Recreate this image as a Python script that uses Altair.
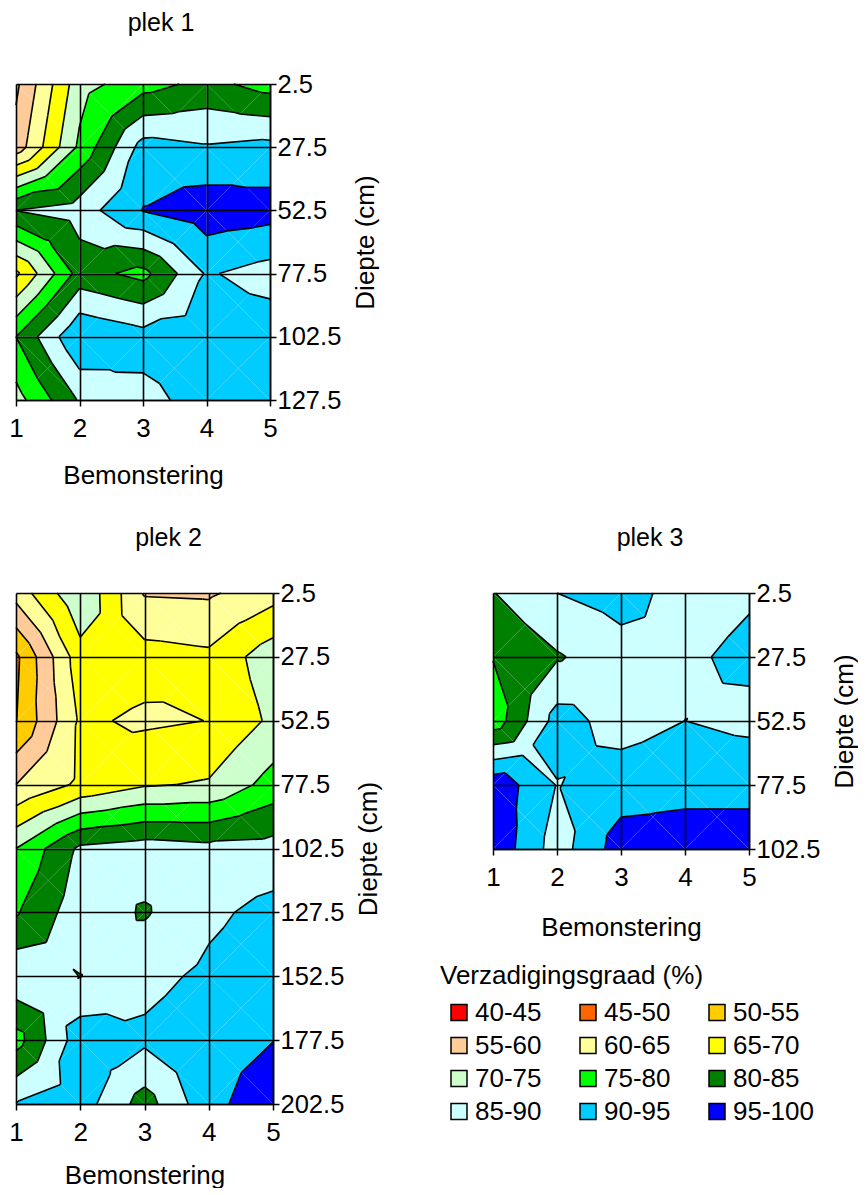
import altair as alt
import pandas as pd

# ---------------- data ----------------
samples = [1, 2, 3, 4, 5]

depth_plek1 = [2.5, 27.5, 52.5, 77.5, 102.5, 127.5]
plek1_grid = [
    [54.0, 73.0, 78.0, 81.5, 78.0],
    [57.0, 76.0, 92.0, 90.5, 91.5],
    [85.05, 87.5, 95.2, 98.0, 97.0],
    [64.0, 82.0, 78.5, 90.5, 88.0],
    [80.0, 94.8, 92.0, 93.0, 93.0],
    [73.0, 85.5, 88.5, 92.0, 93.0],
]

depth_plek2 = [2.5, 27.5, 52.5, 77.5, 102.5, 127.5, 152.5, 177.5, 202.5]
plek2_grid = [
    [62.0, 74.5, 59.6, 59.3, 63.0],
    [49.0, 68.0, 67.0, 66.0, 73.0],
    [49.8, 65.8, 64.2, 65.07, 71.0],
    [60.0, 66.0, 69.5, 70.5, 77.0],
    [75.0, 86.0, 87.5, 86.5, 87.0],
    [79.5, 88.0, 84.5, 89.0, 91.5],
    [89.0, 84.9, 88.5, 91.0, 93.0],
    [78.0, 93.0, 91.0, 93.0, 94.9],
    [90.2, 92.5, 82.8, 93.4, 98.5],
]

depth_plek3 = [2.5, 27.5, 52.5, 77.5, 102.5]
plek3_grid = [
    [84.8, 90.0, 92.0, 88.0, 89.5],
    [80.2, 84.5, 88.0, 89.3, 91.0],
    [77.0, 92.0, 88.0, 90.02, 88.8],
    [98.5, 89.8, 92.5, 93.5, 93.5],
    [98.9, 87.6, 97.5, 97.5, 97.5],
]

band_labels = ["40-45", "45-50", "50-55", "55-60", "60-65", "65-70",
               "70-75", "75-80", "80-85", "85-90", "90-95", "95-100"]
band_colors = ["#FF0000", "#FF6600", "#FFCC00", "#FFCC99", "#FFFF99", "#FFFF00",
               "#CCFFCC", "#00FF00", "#008000", "#CCFFFF", "#00CCFF", "#0000FF"]
band_edges = [40, 45, 50, 55, 60, 65, 70, 75, 80, 85, 90, 95, 100]

FONT = "Liberation Sans"


# ---------------- contour geometry (triangulated cells) ----------------
def clip(poly, level, keep_above):
    out = []
    n = len(poly)
    for i in range(n):
        p = poly[i]
        q = poly[(i + 1) % n]
        pin = p[2] >= level if keep_above else p[2] <= level
        qin = q[2] >= level if keep_above else q[2] <= level
        if pin:
            out.append(p)
        if pin != qin:
            t = (level - p[2]) / (q[2] - p[2])
            out.append((p[0] + t * (q[0] - p[0]), p[1] + t * (q[1] - p[1]), level))
    return out


def area(poly):
    s = 0.0
    n = len(poly)
    for i in range(n):
        x1, y1 = poly[i][0], poly[i][1] / 25.0
        x2, y2 = poly[(i + 1) % n][0], poly[(i + 1) % n][1] / 25.0
        s += x1 * y2 - x2 * y1
    return abs(s) / 2


def build(grid, depths):
    prow, lrow = [], []
    pid = 0
    sid = 0
    for r in range(len(depths) - 1):
        for c in range(len(samples) - 1):
            x0, x1 = samples[c], samples[c + 1]
            y0, y1 = depths[r], depths[r + 1]
            a = (x0, y0, grid[r][c])
            b = (x1, y0, grid[r][c + 1])
            d = (x1, y1, grid[r + 1][c + 1])
            e = (x0, y1, grid[r + 1][c])
            cen = ((x0 + x1) / 2, (y0 + y1) / 2, (a[2] + b[2] + d[2] + e[2]) / 4)
            for tri in [(a, b, cen), (b, d, cen), (d, e, cen), (e, a, cen)]:
                for k, lab in enumerate(band_labels):
                    lo = band_edges[k] if k > 0 else -1e9
                    hi = band_edges[k + 1] if k < len(band_labels) - 1 else 1e9
                    p = clip(list(tri), lo, True)
                    if len(p) >= 3:
                        p = clip(p, hi, False)
                    if len(p) >= 3 and area(p) > 1e-7:
                        for o, pt in enumerate(p):
                            prow.append({"pid": pid, "ord": o, "x": pt[0], "depth": pt[1], "band": lab})
                        pid += 1
                for L in band_edges[1:-1]:
                    pts = []
                    for (p, q) in [(tri[0], tri[1]), (tri[1], tri[2]), (tri[2], tri[0])]:
                        if (p[2] >= L) != (q[2] >= L):
                            t = (L - p[2]) / (q[2] - p[2])
                            pts.append((p[0] + t * (q[0] - p[0]), p[1] + t * (q[1] - p[1])))
                    if len(pts) == 2:
                        for o, pt in enumerate(pts):
                            lrow.append({"sid": sid, "ord": o, "x": pt[0], "depth": pt[1]})
                        sid += 1
    return pd.DataFrame(prow), pd.DataFrame(lrow)


legend = alt.Legend(
    title="Verzadigingsgraad (%)", orient="none", legendX=424, legendY=879,
    direction="horizontal", columns=3, symbolType="square", symbolSize=256,
    symbolStrokeColor="black", symbolStrokeWidth=1.5, symbolOffset=6, labelOffset=3,
    columnPadding=27, rowPadding=7, titlePadding=10.5, labelFontSize=26, titleFontSize=26,
    titleFontWeight="normal", labelColor="black", titleColor="black", titleLimit=500,
    labelFont=FONT, titleFont=FONT, padding=0, symbolOpacity=1,
)


def panel(grid, depths, name, w, h, dx, toff, xtitle_pad):
    pdf, ldf = build(grid, depths)
    xenc = alt.X("x:Q", scale=alt.Scale(domain=[samples[0], samples[-1]], nice=False, zero=False),
                 axis=alt.Axis(values=samples, format="d", title="Bemonstering", grid=True,
                               zindex=1, labelFlush=False, tickSize=6, labelPadding=9,
                               titlePadding=xtitle_pad, labelFontSize=26))
    yenc = alt.Y("depth:Q", scale=alt.Scale(domain=[depths[0], depths[-1]], reverse=True,
                                            nice=False, zero=False),
                 axis=alt.Axis(orient="right", values=depths, format=".1f", title="Diepte (cm)",
                               titleAngle=270, titleBaseline="top", grid=True, zindex=1,
                               labelFlush=False, tickSize=6, labelPadding=1, titlePadding=12,
                               labelFontSize=25.5))
    fills = alt.Chart(pdf).mark_line(stroke="transparent", interpolate="linear").encode(
        x=xenc, y=yenc,
        fill=alt.Fill("band:N", scale=alt.Scale(domain=band_labels, range=band_colors), legend=legend),
        detail="pid:N", order="ord:Q",
    )
    lines = alt.Chart(ldf).mark_line(color="black", strokeWidth=1.6).encode(
        x="x:Q", y="depth:Q", detail="sid:N", order="ord:Q"
    )
    return alt.layer(fills, lines).properties(
        width=w, height=h,
        title=alt.TitleParams(name, dx=dx, offset=toff, anchor="middle", frame="group",
                              fontSize=25, fontWeight="normal", font=FONT, color="black"),
    )


p1 = panel(plek1_grid, depth_plek1, "plek 1", 254, 316, 18, 36, 21)
p2 = panel(plek2_grid, depth_plek2, "plek 2", 257, 511, 24, 30, 17)
p3 = panel(plek3_grid, depth_plek3, "plek 3", 256, 256, 29, 30, 24)

chart = alt.vconcat(
    p1, alt.hconcat(p2, p3, spacing=103), spacing=38
).properties(
    padding={"left": 0, "top": 3, "right": 0, "bottom": 0}, background="white"
).configure(font=FONT).configure_view(stroke=None).configure_axis(
    titleFontSize=26, titleFontWeight="normal", labelColor="black",
    titleColor="black", domainColor="black", domainWidth=1.5, tickColor="black",
    tickWidth=1.5, gridColor="black", gridOpacity=1, gridWidth=1.6,
    labelFont=FONT, titleFont=FONT,
)

chart.save("out.html", embed_options={"renderer": "svg", "actions": False})
